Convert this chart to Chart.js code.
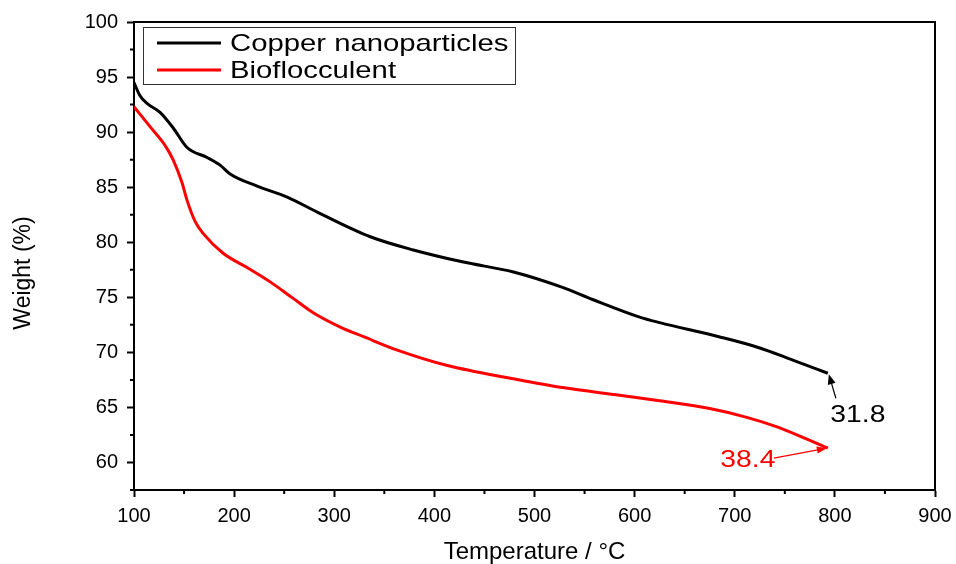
<!DOCTYPE html>
<html>
<head>
<meta charset="utf-8">
<script src="https://cdn.jsdelivr.net/npm/chart.js@4.4.1/dist/chart.umd.min.js"></script>
<style>
  html, body { margin: 0; padding: 0; background: #fff; }
  #wrap { width: 956px; height: 564px; position: relative; }
</style>
</head>
<body>
<div id="wrap"><canvas id="tga"></canvas></div>
<script>
// values
const copperTemp = [100, 106, 113, 126, 139, 153, 173, 186, 196, 223, 253, 286, 336, 379, 429, 479, 528, 558, 605, 625, 685, 725, 758, 793];
const copperWeight = [94.5, 93.3, 92.6, 91.8, 90.4, 88.6, 87.7, 87.0, 86.2, 85.1, 84.1, 82.6, 80.5, 79.3, 78.2, 77.3, 75.9, 74.8, 73.2, 72.7, 71.4, 70.4, 69.3, 68.1];

const bioTemp = [100, 116, 131, 139, 148, 153, 161, 169, 189, 213, 236, 259, 279, 306, 330, 363, 413, 479, 528, 585, 625, 675, 712, 740, 765, 793];
const bioWeight = [92.3, 90.5, 88.8, 87.5, 85.4, 83.8, 81.9, 80.8, 79.0, 77.7, 76.4, 74.9, 73.6, 72.3, 71.4, 70.2, 68.8, 67.6, 66.8, 66.1, 65.6, 64.9, 64.1, 63.3, 62.4, 61.3];

const seriesNames = ["Copper nanoparticles", "Bioflocculent"];
const residueLabels = ["31.8", "38.4"];
const yTitle = "Weight (%)";

const xTicks = [100, 200, 300, 400, 500, 600, 700, 800, 900];
const yTicks = [60, 65, 70, 75, 80, 85, 90, 95, 100];

const toPoints = (xs, ys) => xs.map((x, i) => ({ x: x, y: ys[i] }));

const FONT = "'Liberation Sans', Arial, sans-serif";

function drawStretchedText(ctx, text, x, y, size, color, align, stretch) {
  ctx.save();
  ctx.font = size + "px " + FONT;
  ctx.fillStyle = color;
  ctx.textBaseline = "middle";
  ctx.translate(x, y);
  ctx.scale(stretch || 1.18, 1);
  ctx.textAlign = align;
  ctx.fillText(text, 0, 0);
  ctx.restore();
}

function arrow(ctx, x0, y0, x1, y1, color, headLen, headW) {
  const ang = Math.atan2(y1 - y0, x1 - x0);
  ctx.save();
  ctx.strokeStyle = color;
  ctx.fillStyle = color;
  ctx.lineWidth = 1.2;
  ctx.beginPath();
  ctx.moveTo(x0, y0);
  ctx.lineTo(x1 - Math.cos(ang) * headLen * 0.8, y1 - Math.sin(ang) * headLen * 0.8);
  ctx.stroke();
  ctx.beginPath();
  ctx.moveTo(x1, y1);
  ctx.lineTo(x1 - Math.cos(ang) * headLen + Math.sin(ang) * headW, y1 - Math.sin(ang) * headLen - Math.cos(ang) * headW);
  ctx.lineTo(x1 - Math.cos(ang) * headLen - Math.sin(ang) * headW, y1 - Math.sin(ang) * headLen + Math.cos(ang) * headW);
  ctx.closePath();
  ctx.fill();
  ctx.restore();
}

const framePlugin = {
  id: "frame",
  afterDraw(chart) {
    const ctx = chart.ctx;
    const a = chart.chartArea;
    const xs = chart.scales.x;
    const ys = chart.scales.y;

    // top and right border
    ctx.save();
    ctx.strokeStyle = "#000";
    ctx.lineWidth = 2;
    ctx.beginPath();
    ctx.moveTo(a.left, a.top);
    ctx.lineTo(a.right, a.top);
    ctx.lineTo(a.right, a.bottom);
    ctx.stroke();

    // minor ticks
    ctx.beginPath();
    for (let v = 150; v < 900; v += 100) {
      const px = xs.getPixelForValue(v);
      ctx.moveTo(px, a.bottom);
      ctx.lineTo(px, a.bottom + 4);
    }
    for (let v = 57.5; v < 100; v += 5) {
      const py = ys.getPixelForValue(v);
      ctx.moveTo(a.left, py);
      ctx.lineTo(a.left - 4, py);
    }
    ctx.stroke();
    ctx.restore();

    // y axis title (sits a little below the middle in the original)
    ctx.save();
    ctx.translate(24, 273);
    ctx.rotate(-Math.PI / 2);
    ctx.font = "23px " + FONT;
    ctx.fillStyle = "#000";
    ctx.textAlign = "center";
    ctx.textBaseline = "middle";
    ctx.fillText(yTitle, 0, 0);
    ctx.restore();

    // legend
    ctx.save();
    ctx.strokeStyle = "#333";
    ctx.lineWidth = 1;
    ctx.strokeRect(143.5, 27.5, 372, 57);
    chart.data.datasets.forEach((ds, i) => {
      const y = 43 + i * 27;
      ctx.strokeStyle = ds.borderColor;
      ctx.lineWidth = 3;
      ctx.beginPath();
      ctx.moveTo(157, y);
      ctx.lineTo(221, y);
      ctx.stroke();
      drawStretchedText(ctx, ds.label, 230, y + 1, 24, "#000", "left", 1.22);
    });
    ctx.restore();

    // residue annotations at the end of each curve
    const m0 = chart.getDatasetMeta(0).data;
    const m1 = chart.getDatasetMeta(1).data;
    const p0 = m0[m0.length - 1];
    const p1 = m1[m1.length - 1];
    arrow(ctx, p0.x + 8, p0.y + 25, p0.x + 1, p0.y + 1, "#000", 10, 4);
    drawStretchedText(ctx, residueLabels[0], p0.x + 30, p0.y + 42, 24, "#000", "center");
    arrow(ctx, p1.x - 54, p1.y + 10, p1.x - 1, p1.y, "#ff0000", 10, 3.5);
    drawStretchedText(ctx, residueLabels[1], p1.x - 80, p1.y + 12, 24, "#ff0000", "center");
  }
};

const tickFont = { family: FONT, size: 20 };

new Chart(document.getElementById("tga"), {
  type: "line",
  data: {
    datasets: [
      {
        label: seriesNames[0],
        data: toPoints(copperTemp, copperWeight),
        borderColor: "#000000",
        borderWidth: 3,
        pointRadius: 0,
        cubicInterpolationMode: "monotone",
        fill: false,
      },
      {
        label: seriesNames[1],
        data: toPoints(bioTemp, bioWeight),
        borderColor: "#ff0000",
        borderWidth: 3,
        pointRadius: 0,
        cubicInterpolationMode: "monotone",
        fill: false,
      },
    ],
  },
  options: {
    responsive: true,
    maintainAspectRatio: false,
    animation: false,
    layout: { padding: { top: 22, right: 21, left: 0, bottom: 0 } },
    plugins: {
      legend: { display: false },
      tooltip: { enabled: false },
    },
    scales: {
      x: {
        type: "linear",
        min: 100,
        max: 900,
        afterBuildTicks: (s) => { s.ticks = xTicks.map((v) => ({ value: v })); },
        afterFit: (s) => { s.height = 74; s.paddingLeft = 0; s.paddingRight = 0; },
        grid: { drawOnChartArea: false, tickLength: 7, tickWidth: 2, tickColor: "#000" },
        border: { color: "#000", width: 2 },
        ticks: { color: "#000", font: tickFont, padding: 7, maxRotation: 0 },
        title: {
          display: true,
          text: "Temperature / °C",
          color: "#000",
          font: { family: FONT, size: 24, lineHeight: 1 },
          padding: { top: 0, bottom: 0 },
        },
      },
      y: {
        type: "linear",
        min: 57.5,
        max: 100,
        afterBuildTicks: (s) => { s.ticks = yTicks.map((v) => ({ value: v })); },
        afterFit: (s) => { s.width = 134; s.paddingTop = 0; s.paddingBottom = 0; },
        grid: { drawOnChartArea: false, tickLength: 7, tickWidth: 2, tickColor: "#000" },
        border: { color: "#000", width: 2 },
        ticks: { color: "#000", font: tickFont, padding: 9 },
        title: { display: false },
      },
    },
  },
  plugins: [framePlugin],
});
</script>
</body>
</html>
